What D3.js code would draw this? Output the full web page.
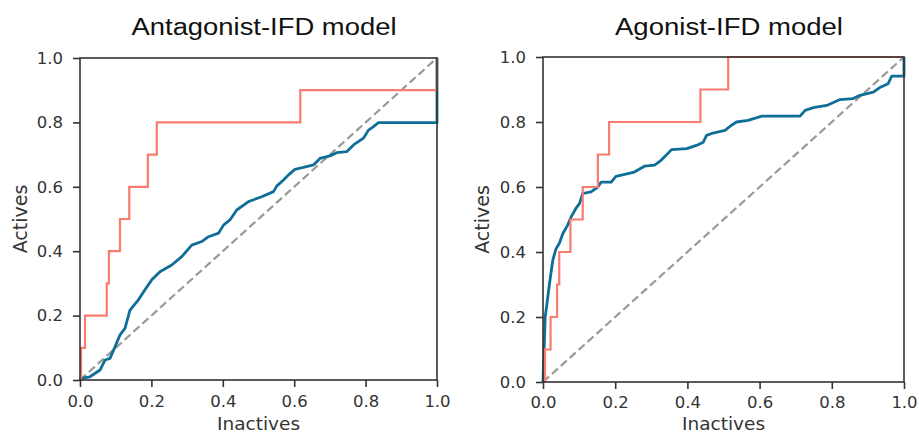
<!DOCTYPE html>
<html>
<head>
<meta charset="utf-8">
<script src="https://cdn.jsdelivr.net/npm/d3@7/dist/d3.min.js"></script>
<style>
  html, body { margin: 0; padding: 0; background: #ffffff; }
  svg { display: block; }
</style>
</head>
<body>
<svg id="chart" width="919" height="434"></svg>
<script>
// ---------- data ----------
const panelTitles = ["Antagonist-IFD model", "Agonist-IFD model"];
const xAxisLabel = "Inactives";
const yAxisLabel = "Actives";
const tickValues = [0, 0.2, 0.4, 0.6, 0.8, 1.0];

// Antagonist panel: red (salmon) step curve
const antRedX = [0, 0.003, 0.003, 0.014, 0.014, 0.075, 0.075, 0.081, 0.081, 0.112, 0.112, 0.138, 0.138, 0.19, 0.19, 0.215, 0.215, 0.617, 0.617, 1.0, 1.0];
const antRedY = [0, 0, 0.1, 0.1, 0.2, 0.2, 0.3, 0.3, 0.4, 0.4, 0.5, 0.5, 0.6, 0.6, 0.7, 0.7, 0.8, 0.8, 0.9, 0.9, 1.0];
// Antagonist panel: blue curve
const antBlueX = [0, 0.003, 0.028, 0.056, 0.070, 0.084, 0.098, 0.112, 0.126, 0.140, 0.163, 0.182, 0.201, 0.224, 0.257, 0.285, 0.313, 0.341, 0.360, 0.388, 0.402, 0.420, 0.439, 0.472, 0.509, 0.542, 0.551, 0.570, 0.584, 0.602, 0.626, 0.654, 0.672, 0.700, 0.719, 0.747, 0.766, 0.794, 0.808, 0.822, 0.836, 1.0, 1.0];
const antBlueY = [0, 0.005, 0.010, 0.031, 0.062, 0.067, 0.103, 0.140, 0.160, 0.217, 0.248, 0.280, 0.311, 0.336, 0.357, 0.383, 0.419, 0.430, 0.445, 0.456, 0.481, 0.497, 0.528, 0.554, 0.569, 0.585, 0.602, 0.621, 0.637, 0.654, 0.660, 0.668, 0.688, 0.696, 0.706, 0.709, 0.730, 0.751, 0.776, 0.787, 0.799, 0.799, 1.0];

// Agonist panel: red (salmon) step curve
const agoRedX = [0, 0.0055, 0.0055, 0.021, 0.021, 0.039, 0.039, 0.045, 0.045, 0.076, 0.076, 0.110, 0.110, 0.152, 0.152, 0.183, 0.183, 0.436, 0.436, 0.513, 0.513, 1.0];
const agoRedY = [0, 0, 0.1, 0.1, 0.2, 0.2, 0.3, 0.3, 0.4, 0.4, 0.5, 0.5, 0.6, 0.6, 0.7, 0.7, 0.8, 0.8, 0.9, 0.9, 1.0, 1.0];
// Agonist panel: blue curve
const agoBlueX = [0, 0.004, 0.006, 0.011, 0.018, 0.027, 0.036, 0.045, 0.055, 0.068, 0.078, 0.091, 0.101, 0.110, 0.133, 0.152, 0.161, 0.189, 0.202, 0.226, 0.253, 0.281, 0.309, 0.327, 0.341, 0.356, 0.398, 0.425, 0.444, 0.453, 0.471, 0.504, 0.522, 0.536, 0.568, 0.606, 0.712, 0.726, 0.749, 0.786, 0.823, 0.859, 0.878, 0.915, 0.933, 0.956, 0.966, 1.0, 1.0];
const agoBlueY = [0, 0.128, 0.200, 0.241, 0.303, 0.374, 0.410, 0.426, 0.457, 0.482, 0.508, 0.534, 0.549, 0.580, 0.585, 0.600, 0.615, 0.615, 0.633, 0.639, 0.646, 0.664, 0.667, 0.682, 0.698, 0.715, 0.718, 0.728, 0.738, 0.759, 0.766, 0.774, 0.790, 0.800, 0.805, 0.818, 0.818, 0.836, 0.844, 0.851, 0.869, 0.872, 0.882, 0.892, 0.906, 0.918, 0.941, 0.941, 1.0];

const diagX = [0, 1];
const diagY = [0, 1];

// ---------- drawing ----------
const svg = d3.select("#chart");
const redColor = "#fa7b6f";
const blueColor = "#0f6e98";
const diagColor = "#999999";
const inkColor = "#333333";
const tickFont = "'DejaVu Sans', sans-serif";

const panels = [
  { title: panelTitles[0], left: 80, right: 437, top: 58, bottom: 380, tickPad: 8.5, titleX: 264, titleLen: 265, ylabX: 20,
    red: [antRedX, antRedY], blue: [antBlueX, antBlueY] },
  { title: panelTitles[1], left: 543, right: 904, top: 57, bottom: 382, tickPad: 7, titleX: 729, titleLen: 228, ylabX: 482,
    red: [agoRedX, agoRedY], blue: [agoBlueX, agoBlueY] }
];

function zip(xs, ys) { return xs.map((x, i) => [x, ys[i]]); }

panels.forEach(p => {
  const x = d3.scaleLinear().domain([0, 1]).range([p.left, p.right]);
  const y = d3.scaleLinear().domain([0, 1]).range([p.bottom, p.top]);
  const line = d3.line().x(d => x(d[0])).y(d => y(d[1]));
  const g = svg.append("g");

  // diagonal
  g.append("path").datum(zip(diagX, diagY)).attr("d", line)
    .attr("fill", "none").attr("stroke", diagColor).attr("stroke-width", 2.2)
    .attr("stroke-dasharray", "8,4");

  // blue
  g.append("path").datum(zip(p.blue[0], p.blue[1])).attr("d", line)
    .attr("fill", "none").attr("stroke", blueColor).attr("stroke-width", 2.8)
    .attr("stroke-linejoin", "round");

  // red
  g.append("path").datum(zip(p.red[0], p.red[1])).attr("d", line)
    .attr("fill", "none").attr("stroke", redColor).attr("stroke-width", 2.2)
    .attr("stroke-linejoin", "miter");

  // frame (spines)
  g.append("rect").attr("x", p.left).attr("y", p.top)
    .attr("width", p.right - p.left).attr("height", p.bottom - p.top)
    .attr("fill", "none").attr("stroke", inkColor).attr("stroke-width", 1.6);

  // axes
  const fmt = d3.format(".1f");
  const xa = g.append("g").attr("transform", `translate(0,${p.bottom})`)
    .call(d3.axisBottom(x).tickValues(tickValues).tickFormat(fmt).tickSize(7).tickPadding(p.tickPad).tickSizeOuter(0));
  const ya = g.append("g").attr("transform", `translate(${p.left},0)`)
    .call(d3.axisLeft(y).tickValues(tickValues).tickFormat(fmt).tickSize(7).tickPadding(10).tickSizeOuter(0));
  [xa, ya].forEach(a => {
    a.select(".domain").remove();
    a.selectAll(".tick line").attr("stroke", inkColor).attr("stroke-width", 1.6);
    a.selectAll(".tick text").attr("fill", inkColor)
      .style("font-family", tickFont).style("font-size", "16.5px");
  });

  // axis labels
  g.append("text").attr("x", (p.left + p.right) / 2).attr("y", 430)
    .attr("text-anchor", "middle").attr("fill", inkColor)
    .style("font-family", tickFont).style("font-size", "18.5px").text(xAxisLabel);
  g.append("text")
    .attr("transform", `translate(${p.ylabX + 7},${(p.top + p.bottom) / 2}) rotate(-90)`)
    .attr("text-anchor", "middle").attr("fill", inkColor)
    .style("font-family", tickFont).style("font-size", "19px").text(yAxisLabel);

  // title
  g.append("text").attr("x", p.titleX).attr("y", 35)
    .attr("text-anchor", "middle").attr("fill", "#111")
    .attr("textLength", p.titleLen).attr("lengthAdjust", "spacingAndGlyphs")
    .style("font-family", "'Liberation Sans', Arial, sans-serif").style("font-size", "23px")
    .text(p.title);
});
</script>
</body>
</html>
